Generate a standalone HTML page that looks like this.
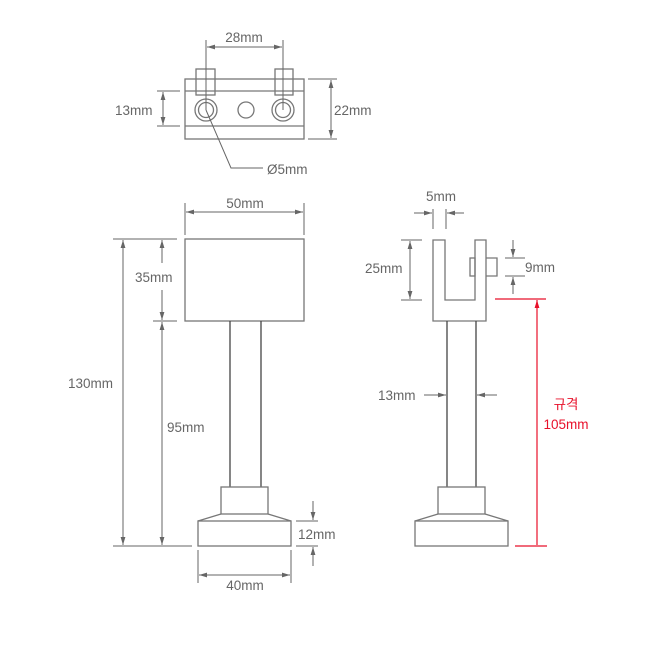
<!DOCTYPE html>
<html><head><meta charset="utf-8"><style>
html,body{margin:0;padding:0;background:#fff;width:649px;height:649px;overflow:hidden}
svg text{font-family:"Liberation Sans","Noto Sans CJK KR",sans-serif;font-size:13.5px;fill:#666}
</style></head><body>
<svg width="649" height="649" viewBox="0 0 649 649" xmlns="http://www.w3.org/2000/svg">
<defs>
<marker id="a" viewBox="0 0 10 10" refX="10" refY="5" markerWidth="8" markerHeight="8" orient="auto-start-reverse" markerUnits="userSpaceOnUse"><path d="M0,2 L10,5 L0,8 z" fill="#666"/></marker>
<marker id="r" viewBox="0 0 10 10" refX="10" refY="5" markerWidth="8" markerHeight="8" orient="auto-start-reverse" markerUnits="userSpaceOnUse"><path d="M0,2 L10,5 L0,8 z" fill="#e8102a"/></marker>
</defs>
<g fill="none" stroke="#777" stroke-width="1.3">
<!-- top view -->
<rect x="196" y="69" width="19" height="26"/>
<rect x="275" y="69" width="18" height="26"/>
<rect x="185" y="79" width="119" height="60" fill="none"/>
<line x1="185" y1="91" x2="304" y2="91"/>
<line x1="185" y1="126" x2="304" y2="126"/>
<circle cx="206" cy="110" r="11"/><circle cx="206" cy="110" r="7.5"/>
<circle cx="283" cy="110" r="11"/><circle cx="283" cy="110" r="7.5"/>
<circle cx="246" cy="110" r="8"/>
</g>
<g fill="none" stroke="#666" stroke-width="1">
<line x1="206" y1="40" x2="206" y2="110"/><line x1="283" y1="40" x2="283" y2="110"/>
<line x1="207" y1="47" x2="282" y2="47" marker-start="url(#a)" marker-end="url(#a)"/>
<line x1="157" y1="91" x2="180" y2="91"/><line x1="157" y1="126" x2="180" y2="126"/>
<line x1="163" y1="92" x2="163" y2="125" marker-start="url(#a)" marker-end="url(#a)"/>
<line x1="308" y1="79" x2="337" y2="79"/><line x1="308" y1="139" x2="337" y2="139"/>
<line x1="331" y1="80" x2="331" y2="138" marker-start="url(#a)" marker-end="url(#a)"/>
<polyline points="206,110 231,168 263,168"/>
<!-- front dims -->
<line x1="185" y1="203" x2="185" y2="235"/><line x1="304" y1="203" x2="304" y2="235"/>
<line x1="186" y1="212" x2="303" y2="212" marker-start="url(#a)" marker-end="url(#a)"/>
<line x1="113" y1="239" x2="177" y2="239"/><line x1="153" y1="321" x2="177" y2="321"/>
<line x1="113" y1="546" x2="192" y2="546"/>
<line x1="123" y1="240" x2="123" y2="545" marker-start="url(#a)" marker-end="url(#a)"/>
<line x1="162" y1="240" x2="162" y2="263" marker-start="url(#a)"/>
<line x1="162" y1="290" x2="162" y2="320" marker-end="url(#a)"/>
<line x1="162" y1="322" x2="162" y2="545" marker-start="url(#a)" marker-end="url(#a)"/>
<line x1="296" y1="521" x2="318" y2="521"/><line x1="296" y1="546" x2="318" y2="546"/>
<line x1="313" y1="501" x2="313" y2="520" marker-end="url(#a)"/>
<line x1="313" y1="566" x2="313" y2="547" marker-end="url(#a)"/>
<line x1="198" y1="550" x2="198" y2="583"/><line x1="291" y1="550" x2="291" y2="583"/>
<line x1="199" y1="575" x2="290" y2="575" marker-start="url(#a)" marker-end="url(#a)"/>
<!-- side dims -->
<line x1="433" y1="209" x2="433" y2="229"/><line x1="446" y1="209" x2="446" y2="229"/>
<line x1="414" y1="213" x2="432" y2="213" marker-end="url(#a)"/>
<line x1="464" y1="213" x2="447" y2="213" marker-end="url(#a)"/>
<line x1="401" y1="240" x2="422" y2="240"/><line x1="401" y1="300" x2="422" y2="300"/>
<line x1="410" y1="241" x2="410" y2="299" marker-start="url(#a)" marker-end="url(#a)"/>
<line x1="505" y1="258" x2="525" y2="258"/><line x1="505" y1="276" x2="525" y2="276"/>
<line x1="513" y1="240" x2="513" y2="257" marker-end="url(#a)"/>
<line x1="513" y1="294" x2="513" y2="277" marker-end="url(#a)"/>
<line x1="424" y1="395" x2="446" y2="395" marker-end="url(#a)"/>
<line x1="497" y1="395" x2="477" y2="395" marker-end="url(#a)"/>
</g>
<g fill="none" stroke="#777" stroke-width="1.3">
<!-- front -->
<rect x="185" y="239" width="119" height="82"/>
<line x1="230" y1="321" x2="230" y2="487" stroke="#444"/><line x1="261" y1="321" x2="261" y2="487" stroke="#444"/>
<rect x="221" y="487" width="47" height="27"/>
<path d="M198,521 L221,514 M268,514 L291,521"/>
<rect x="198" y="521" width="93" height="25"/>
<!-- side -->
<path d="M433,240 H445 V300 H475 V240 H486 V321 H433 Z"/>
<path d="M486,258 H497 V276 H486"/>
<rect x="470" y="258" width="5" height="18"/>
<line x1="447" y1="321" x2="447" y2="487" stroke="#444"/><line x1="476" y1="321" x2="476" y2="487" stroke="#444"/>
<rect x="438" y="487" width="47" height="27"/>
<path d="M415,521 L438,514 M485,514 L508,521"/>
<rect x="415" y="521" width="93" height="25"/>
</g>
<g stroke="#e8102a" stroke-width="1.2" fill="none">
<line x1="495" y1="299" x2="546" y2="299"/>
<line x1="515" y1="546" x2="547" y2="546"/>
<line x1="537" y1="545" x2="537" y2="300" marker-end="url(#r)"/>
</g>
<text x="244" y="42" text-anchor="middle">28mm</text>
<text x="115" y="115">13mm</text>
<text x="334" y="115">22mm</text>
<text x="267" y="174">Ø5mm</text>
<text x="245" y="208" text-anchor="middle">50mm</text>
<text x="135" y="282">35mm</text>
<text x="68" y="388">130mm</text>
<text x="167" y="432">95mm</text>
<text x="298" y="539">12mm</text>
<text x="245" y="590" text-anchor="middle">40mm</text>
<text x="441" y="201" text-anchor="middle">5mm</text>
<text x="365" y="273">25mm</text>
<text x="525" y="272">9mm</text>
<text x="378" y="400">13mm</text>
<text x="566" y="409" text-anchor="middle" style="fill:#e8102a">규격</text>
<text x="566" y="429" text-anchor="middle" style="fill:#e8102a">105mm</text>
</svg>
</body></html>
